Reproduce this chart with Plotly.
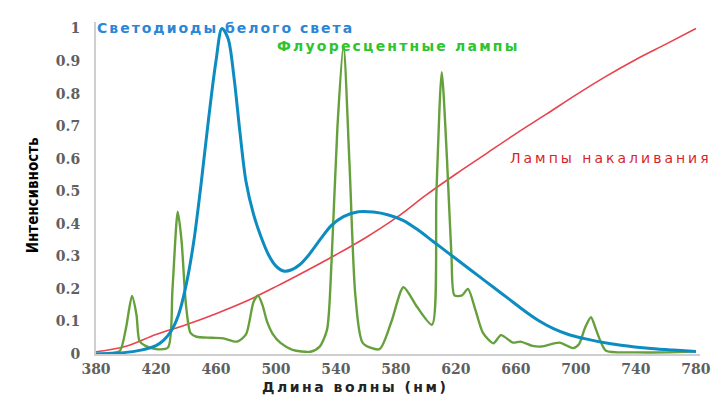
import plotly.graph_objects as go

# --- data ---
led_nm = [380, 390, 400, 410, 420, 425, 430, 435, 440, 445, 450, 455, 460, 464, 468, 472, 476, 480,
          485, 490, 495, 500, 505, 510, 516, 522, 530, 537, 545, 555, 565, 575, 585, 595, 605, 615,
          625, 635, 645, 655, 665, 675, 685, 695, 705, 715, 730, 750, 765, 780]
led_val = [0.0, 0.002, 0.005, 0.012, 0.026, 0.042, 0.07, 0.12, 0.21, 0.34, 0.52, 0.72, 0.9, 1.0, 0.97,
           0.85, 0.68, 0.53, 0.43, 0.36, 0.305, 0.27, 0.255, 0.258, 0.275, 0.305, 0.355, 0.395, 0.422,
           0.437, 0.436, 0.427, 0.41, 0.38, 0.345, 0.31, 0.275, 0.24, 0.205, 0.17, 0.135, 0.103, 0.078,
           0.06, 0.048, 0.038, 0.027, 0.017, 0.012, 0.008]

fl_nm = [380, 390, 396, 400, 404, 407, 409, 413, 420, 428, 431, 434.5, 437, 440, 443, 447, 457, 465,
         474, 480, 485, 488, 491, 494, 498, 503, 511, 523, 529, 534, 537, 541, 545, 549, 553, 558, 569,
         577, 585, 594, 604, 607, 610.5, 614, 617, 619, 624, 628, 633, 638, 645, 650, 658, 663, 671,
         677, 689, 698, 702, 706, 710, 713, 716, 720, 740, 760, 780]
fl_val = [0.0, 0.002, 0.01, 0.08, 0.178, 0.12, 0.04, 0.025, 0.015, 0.02, 0.2, 0.437, 0.35, 0.15, 0.065,
          0.053, 0.05, 0.048, 0.038, 0.06, 0.16, 0.18, 0.15, 0.1, 0.06, 0.034, 0.013, 0.007, 0.022,
          0.074, 0.28, 0.7, 0.948, 0.585, 0.176, 0.033, 0.015, 0.1, 0.205, 0.145, 0.09, 0.5, 0.866,
          0.6, 0.3, 0.18, 0.18, 0.2, 0.135, 0.065, 0.033, 0.058, 0.035, 0.038, 0.025, 0.023, 0.035,
          0.018, 0.03, 0.08, 0.113, 0.08, 0.043, 0.01, 0.005, 0.005, 0.008]

inc_nm = [380, 400, 420, 440, 460, 480, 500, 520, 540, 560, 580, 600, 620, 640, 660, 680, 700, 720,
          740, 760, 780]
inc_val = [0.007, 0.024, 0.06, 0.09, 0.124, 0.162, 0.207, 0.255, 0.305, 0.358, 0.418, 0.488, 0.553,
           0.615, 0.677, 0.736, 0.796, 0.853, 0.905, 0.952, 1.0]

x_ticks = [380, 420, 460, 500, 540, 580, 620, 660, 700, 740, 780]
y_ticks = [0, 0.1, 0.2, 0.3, 0.4, 0.5, 0.6, 0.7, 0.8, 0.9, 1]
y_tick_text = ["0", "0.1", "0.2", "0.3", "0.4", "0.5", "0.6", "0.7", "0.8", "0.9", "1"]


def spaced(text, px, bold=False):
    s = f'<span style="letter-spacing:{px}px">{text}</span>'
    return f"<b>{s}</b>" if bold else s


tick_font = dict(family="DejaVu Serif, serif", size=14, color="#606060", weight="bold")

fig = go.Figure()
fig.add_trace(go.Scatter(x=inc_nm, y=inc_val, mode="lines",
                         line=dict(color="#e8424c", width=1.6, shape="spline"), name="inc"))
fig.add_trace(go.Scatter(x=fl_nm, y=fl_val, mode="lines",
                         line=dict(color="#66a03c", width=2.4, shape="spline", smoothing=0.7), name="fl"))
fig.add_trace(go.Scatter(x=led_nm, y=led_val, mode="lines",
                         line=dict(color="#0c8cc0", width=3, shape="spline", smoothing=0.9), name="led"))

fig.update_layout(
    width=714, height=410,
    margin=dict(l=96, r=14, t=21.5, b=56),
    paper_bgcolor="white", plot_bgcolor="white",
    showlegend=False,
    xaxis=dict(range=[380, 782.7], tickvals=x_ticks, showgrid=False, zeroline=False,
               showline=True, linecolor="#cfcfcf", linewidth=2, ticks="", automargin=False,
               tickfont=tick_font, ticklabelstandoff=1),
    yaxis=dict(range=[0, 1.02], tickvals=y_ticks, ticktext=y_tick_text, showgrid=False,
               zeroline=False, showline=True, linecolor="#cfcfcf", linewidth=2, ticks="",
               automargin=False, tickfont=tick_font, ticklabelstandoff=11),
    annotations=[
        dict(text="<b>Интенсивность</b>", xref="paper", yref="paper", x=-0.1225, y=0.478,
             textangle=-90, showarrow=False,
             font=dict(family="DejaVu Sans Condensed", size=15, color="black")),
        dict(text=spaced("Длина волны (нм)", 2.5, bold=True), xref="paper", yref="paper",
             x=0.429, y=-0.129, showarrow=False,
             font=dict(family="DejaVu Sans", size=14, color="#222222")),
        dict(text=spaced("Светодиоды белого света", 2, bold=True), xref="paper", yref="paper",
             x=-0.002, y=1.0135, xanchor="left", showarrow=False,
             font=dict(family="DejaVu Sans", size=14, color="#2a86d6")),
        dict(text=spaced("Флуоресцентные лампы", 2.2, bold=True), xref="paper", yref="paper",
             x=0.296, y=0.959, xanchor="left", showarrow=False,
             font=dict(family="DejaVu Sans", size=14, color="#2ec42e")),
        dict(text=spaced("Лампы накаливания", 3), xref="paper", yref="paper", x=0.682, y=0.589,
             xanchor="left", showarrow=False,
             font=dict(family="DejaVu Sans", size=14, color="#d91f2a")),
    ],
)

fig.write_html("out.html", config={"displayModeBar": False},
               post_script="document.body.style.margin='0';document.body.style.padding='0';")
